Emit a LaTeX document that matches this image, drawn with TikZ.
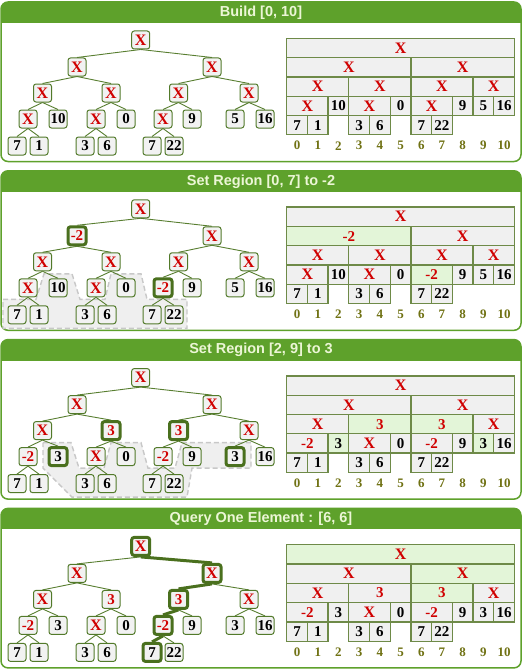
\documentclass[tikz,border=0pt]{standalone}
\usepackage{fontspec}
\setmainfont{Liberation Serif}
\newfontfamily\titlefont{Liberation Sans}
\definecolor{hdr}{RGB}{94,161,43}
\definecolor{titlec}{RGB}{236,246,214}
\definecolor{tborder}{RGB}{82,122,42}
\definecolor{edgec}{RGB}{88,126,48}
\definecolor{hlc}{RGB}{74,112,30}
\definecolor{boxfill}{RGB}{242,242,242}
\definecolor{cellf}{RGB}{240,240,240}
\definecolor{cellb}{RGB}{110,138,72}
\definecolor{lgreen}{RGB}{227,245,216}
\definecolor{idxc}{RGB}{112,114,20}
\definecolor{regf}{RGB}{239,239,239}
\definecolor{regd}{RGB}{200,200,200}
\definecolor{xred}{RGB}{208,0,0}
\newcommand\XX{{\fontsize{16}{16}\selectfont\color{xred}X}}
\newcommand\RN[1]{{\color{xred}#1}}
% default values
\def\Vr{\XX}\def\Va{\XX}\def\Vb{\XX}\def\Vc{\XX}\def\Vd{\XX}\def\Ve{\XX}\def\Vf{\XX}
\def\Vg{\XX}\def\Vh{10}\def\Vi{\XX}\def\Vj{0}\def\Vk{\XX}\def\Vl{9}\def\Vm{5}\def\Vn{16}
\tikzset{
  x=1pt,y=-1pt,
  tn/.style={draw=tborder, fill=boxfill, rounded corners=2.5pt, minimum width=18pt, minimum height=18pt, inner sep=0pt, line width=1pt, font=\fontsize{15}{15}\selectfont\bfseries},
  hlbox/.style={line width=3pt, draw=hlc},
  te/.style={draw=edgec, line width=0.9pt},
  hledge/.style={line width=3pt, draw=hlc},
  cell/.style={draw=cellb, fill=cellf, line width=1.3pt, minimum height=19.3pt, inner sep=0pt, font=\fontsize{15}{15}\selectfont\bfseries},
  cgreen/.style={fill=lgreen},
  idx/.style={text=idxc, inner sep=0pt, font=\fontsize{13}{13}\selectfont\bfseries},
  ttl/.style={text=titlec, inner sep=0pt, font=\titlefont\fontsize{14.5}{15}\selectfont\bfseries},
  region/.style={fill=regf, draw=regd, line width=1.4pt, dash pattern=on 5pt off 3pt},
  ns-r/.style={},ns-a/.style={},ns-b/.style={},ns-c/.style={},ns-d/.style={},ns-e/.style={},ns-f/.style={},
  ns-g/.style={},ns-h/.style={},ns-i/.style={},ns-j/.style={},ns-k/.style={},ns-l/.style={},ns-m/.style={},ns-n/.style={},
  ns-o/.style={},ns-p/.style={},ns-q/.style={},ns-u/.style={},ns-s/.style={},ns-t/.style={},
  es-a/.style={},es-b/.style={},es-c/.style={},es-d/.style={},es-e/.style={},es-f/.style={},
  es-g/.style={},es-h/.style={},es-i/.style={},es-j/.style={},es-k/.style={},es-l/.style={},es-m/.style={},es-n/.style={},
  es-o/.style={},es-p/.style={},es-q/.style={},es-u/.style={},es-s/.style={},es-t/.style={},
  cs-r/.style={},cs-a/.style={},cs-b/.style={},cs-c/.style={},cs-d/.style={},cs-e/.style={},cs-f/.style={},
  cs-g/.style={},cs-h/.style={},cs-i/.style={},cs-j/.style={},cs-k/.style={},cs-l/.style={},cs-m/.style={},cs-n/.style={},
}
\newcommand\Panel[2]{% name, title
  \begin{scope}
    \clip[rounded corners=7pt] (1,0) rectangle (521,159.5);
    \fill[white] (1,0) rectangle (521,159.5);
    \fill[hdr] (1,0) rectangle (521,21);
  \end{scope}
  \draw[draw=hdr, line width=1.5pt, rounded corners=7pt] (1,0) rectangle (521,159.5);
  \node[ttl] (#1) at (261,10.5) {#2};
}
\newcommand\DrawTree{%
  \node[tn,ns-r] (r) at (140.7,38) {\Vr};
  \node[tn,ns-a] (a) at (77,65) {\Va};
  \node[tn,ns-b] (b) at (212,65) {\Vb};
  \node[tn,ns-c] (c) at (42.5,91) {\Vc};
  \node[tn,ns-d] (d) at (111,91) {\Vd};
  \node[tn,ns-e] (e) at (178.5,91) {\Ve};
  \node[tn,ns-f] (f) at (249,91) {\Vf};
  \node[tn,ns-g] (g) at (28,117) {\Vg};
  \node[tn,ns-h] (h) at (58,117) {\Vh};
  \node[tn,ns-i] (i) at (96,117) {\Vi};
  \node[tn,ns-j] (j) at (126,117) {\Vj};
  \node[tn,ns-k] (k) at (163,117) {\Vk};
  \node[tn,ns-l] (l) at (192,117) {\Vl};
  \node[tn,ns-m] (m) at (235,117) {\Vm};
  \node[tn,ns-n] (n) at (265,117) {\Vn};
  \node[tn,ns-o] (o) at (17,144) {7};
  \node[tn,ns-p] (p) at (39,144) {1};
  \node[tn,ns-q] (q) at (85,144) {3};
  \node[tn,ns-u] (u) at (107,144) {6};
  \node[tn,ns-s] (s) at (152,144) {7};
  \node[tn,ns-t] (t) at (174,144) {22};
  \draw[te,es-a] (r.south) -- (a.north);
  \draw[te,es-b] (r.south) -- (b.north);
  \draw[te,es-c] (a.south) -- (c.north);
  \draw[te,es-d] (a.south) -- (d.north);
  \draw[te,es-e] (b.south) -- (e.north);
  \draw[te,es-f] (b.south) -- (f.north);
  \draw[te,es-g] (c.south) -- (g.north);
  \draw[te,es-h] (c.south) -- (h.north);
  \draw[te,es-i] (d.south) -- (i.north);
  \draw[te,es-j] (d.south) -- (j.north);
  \draw[te,es-k] (e.south) -- (k.north);
  \draw[te,es-l] (e.south) -- (l.north);
  \draw[te,es-m] (f.south) -- (m.north);
  \draw[te,es-n] (f.south) -- (n.north);
  \draw[te,es-o] (g.south) -- (o.north);
  \draw[te,es-p] (g.south) -- (p.north);
  \draw[te,es-q] (i.south) -- (q.north);
  \draw[te,es-u] (i.south) -- (u.north);
  \draw[te,es-s] (k.south) -- (s.north);
  \draw[te,es-t] (k.south) -- (t.north);
}
\newcommand\Cell[5]{%
  \pgfmathsetmacro\cx{286.7+(#1+#2/2)*20.7}%
  \pgfmathsetmacro\cy{36.3+(#3+0.5)*19.3}%
  \pgfmathsetmacro\cw{#2*20.7}%
  \node[cell,minimum width=\cw pt,#5] (c#3-#1) at (\cx,\cy) {#4};}
\newcommand\DrawTable{%
  \Cell{0}{11}{0}{\Vr}{cs-r}
  \Cell{0}{6}{1}{\Va}{cs-a}
  \Cell{6}{5}{1}{\Vb}{cs-b}
  \Cell{0}{3}{2}{\Vc}{cs-c}
  \Cell{3}{3}{2}{\Vd}{cs-d}
  \Cell{6}{3}{2}{\Ve}{cs-e}
  \Cell{9}{2}{2}{\Vf}{cs-f}
  \Cell{0}{2}{3}{\Vg}{cs-g}
  \Cell{2}{1}{3}{\Vh}{cs-h}
  \Cell{3}{2}{3}{\Vi}{cs-i}
  \Cell{5}{1}{3}{\Vj}{cs-j}
  \Cell{6}{2}{3}{\Vk}{cs-k}
  \Cell{8}{1}{3}{\Vl}{cs-l}
  \Cell{9}{1}{3}{\Vm}{cs-m}
  \Cell{10}{1}{3}{\Vn}{cs-n}
  \Cell{0}{1}{4}{7}{}
  \Cell{1}{1}{4}{1}{}
  \Cell{3}{1}{4}{3}{}
  \Cell{4}{1}{4}{6}{}
  \Cell{6}{1}{4}{7}{}
  \Cell{7}{1}{4}{22}{}
  \foreach \k in {0,...,10}{
    \pgfmathsetmacro\ix{286.7+(\k+0.5)*20.7}
    \node[idx] (ix\k) at (\ix,143.7) {\k};
  }
}
\begin{document}
\begin{tikzpicture}
\useasboundingbox (0,0) rectangle (522,669);
\fill[white] (0,0) rectangle (522,669);
% Panel 1
\begin{scope}[shift={(0,2)}]
  \Panel{t1}{Build [0, 10]}
  \DrawTree
  \DrawTable
\end{scope}
% Panel 2
\begin{scope}[shift={(0,170.8)}]
  \def\Va{\RN{-2}}\def\Vk{\RN{-2}}
  \tikzset{ns-a/.style={hlbox},ns-k/.style={hlbox},cs-a/.style={cgreen},cs-k/.style={cgreen}}
  \Panel{t2}{Set Region [0, 7] to -2}
  \path[region] (3,128.5) -- (36,128.5) -- (44,103) -- (72,103) -- (80,128.5) -- (105,128.5) -- (111,103) -- (141,103) -- (147,128.5) -- (187,128.5) -- (187,157.5) -- (3,157.5) -- cycle;
  \DrawTree
  \DrawTable
\end{scope}
% Panel 3
\begin{scope}[shift={(0,339.6)}]
  \def\Vd{\RN{3}}\def\Ve{\RN{3}}\def\Vg{\RN{-2}}\def\Vh{3}\def\Vk{\RN{-2}}\def\Vm{3}
  \tikzset{ns-d/.style={hlbox},ns-e/.style={hlbox},ns-h/.style={hlbox},ns-m/.style={hlbox},
    cs-d/.style={cgreen},cs-e/.style={cgreen},cs-h/.style={cgreen},cs-m/.style={cgreen}}
  \Panel{t3}{Set Region [2, 9] to 3}
  \path[region] (43,103) -- (71,103) -- (79,128.5) -- (104,128.5) -- (111,103) -- (141,103) -- (148,128.5) -- (175,128.5) -- (182,103) -- (251,103) -- (251,128.5) -- (192,128.5) -- (187,157.5) -- (72,157.5) -- (43,128.5) -- cycle;
  \DrawTree
  \DrawTable
\end{scope}
% Panel 4
\begin{scope}[shift={(0,508.4)}]
  \def\Vd{\RN{3}}\def\Ve{\RN{3}}\def\Vg{\RN{-2}}\def\Vh{3}\def\Vk{\RN{-2}}\def\Vm{3}
  \tikzset{ns-r/.style={hlbox},ns-b/.style={hlbox},ns-e/.style={hlbox},ns-k/.style={hlbox},ns-s/.style={hlbox},
    es-b/.style={hledge},es-e/.style={hledge},es-k/.style={hledge},es-s/.style={hledge},
    cs-r/.style={cgreen},cs-b/.style={cgreen},cs-e/.style={cgreen}}
  \Panel{t4}{Query One Element : [6, 6]}
  \DrawTree
  \DrawTable
\end{scope}
\end{tikzpicture}
\end{document}
